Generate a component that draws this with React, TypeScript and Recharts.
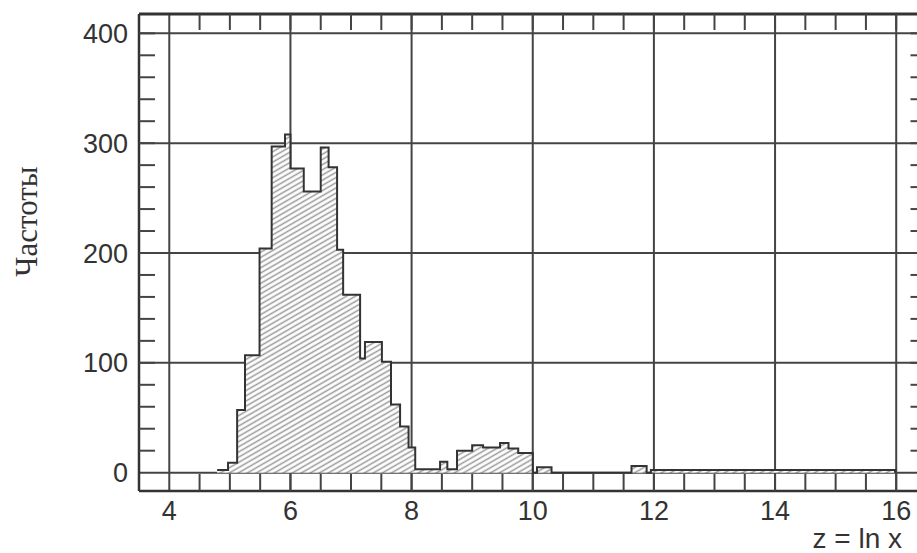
import React from 'react';
import { AreaChart, Area, XAxis, YAxis, CartesianGrid } from 'recharts';

// Histogram bin edges (z = ln x) and counts
const binEdges = [
  4.79, 4.97, 5.12, 5.25, 5.49, 5.69, 5.91, 6.0, 6.22, 6.5,
  6.63, 6.77, 6.87, 7.15, 7.23, 7.51, 7.66, 7.81, 7.95, 8.06,
  8.47, 8.59, 8.75, 9.0, 9.18, 9.46, 9.6, 9.76, 10.0, 10.07,
  10.31, 11.63, 11.88, 11.95, 15.98,
];
const binCounts = [
  2.5, 9, 57, 107, 204, 297, 308, 277, 256, 296,
  278, 203, 162, 104, 119, 101, 62, 42, 23, 3,
  10, 3, 20, 25, 23, 27, 22, 18, 0, 5,
  0, 6, 0, 2.5,
];

const xMajorTicks = [4, 6, 8, 10, 12, 14, 16];
const xMinorTicks = [
  4.5, 5, 5.5, 6, 6.5, 7, 7.5, 8, 8.5, 9, 9.5, 10, 10.5, 11, 11.5, 12,
  12.5, 13, 13.5, 14, 14.5, 15, 15.5, 16,
];
const yMajorTicks = [0, 100, 200, 300, 400];
const yMinorTicks = [
  20, 40, 60, 80, 100, 120, 140, 160, 180, 200, 220, 240, 260, 280, 300,
  320, 340, 360, 380, 400,
];
const xDomain = [3.5, 16.5];
const yDomain = [-16.7, 417.6];
const xLabel = 'z = ln x';
const yLabel = 'Частоты';

const data = binEdges.map((z, i) => ({ z, n: i < binCounts.length ? binCounts[i] : 0 }));

const sans = '"Liberation Sans", Arial, sans-serif';
const serif = '"Liberation Serif", "Times New Roman", serif';

const EmptyTick = () => <g />;

const XLabelContent = (props: any) => {
  const vb = props.viewBox || { x: 0, y: 0, width: 0, height: 0 };
  return (
    <text
      x={vb.x + vb.width - 24.5}
      y={vb.y + vb.height - 5}
      textAnchor="end"
      fontSize={28}
      fontFamily={sans}
      fill="#333"
    >
      {xLabel}
    </text>
  );
};

const YLabelContent = (props: any) => {
  const vb = props.viewBox || { x: 0, y: 0, width: 0, height: 0 };
  const x = vb.x + 37;
  const y = vb.y + vb.height * 0.435;
  return (
    <text
      x={x}
      y={y}
      transform={`rotate(-90, ${x}, ${y})`}
      textAnchor="middle"
      fontSize={31}
      fontFamily={serif}
      fill="#333"
    >
      {yLabel}
    </text>
  );
};

export default function App() {
  return (
    <div style={{ width: 917, height: 553, overflow: 'hidden', background: '#fff' }}>
      <style>{'body{margin:0;background:#fff;}'}</style>
      <AreaChart
        width={940}
        height={553}
        data={data}
        margin={{ top: 14, right: 13.5, bottom: 0, left: 0 }}
      >
        <defs>
          <pattern
            id="hatch"
            patternUnits="userSpaceOnUse"
            width="6"
            height="4.5"
            patternTransform="rotate(-30)"
          >
            <rect x="0" y="0" width="6" height="4.5" fill="#fff" />
            <line x1="0" y1="2.25" x2="6" y2="2.25" stroke="#999" strokeWidth="1.5" />
          </pattern>
        </defs>
        <CartesianGrid xAxisId="x" yAxisId="y" stroke="#444" strokeWidth={2} />
        <XAxis
          xAxisId="x"
          dataKey="z"
          type="number"
          domain={xDomain}
          allowDataOverflow
          ticks={xMajorTicks}
          interval={0}
          orientation="bottom"
          height={62}
          tickLine={false}
          tickSize={0}
          tickMargin={10}
          axisLine={{ stroke: '#333', strokeWidth: 2.5 }}
          tick={{ fontSize: 27, fill: '#333', fontFamily: sans }}
          label={{ content: XLabelContent }}
        />
        <XAxis
          xAxisId="xb"
          dataKey="z"
          type="number"
          domain={xDomain}
          allowDataOverflow
          ticks={xMinorTicks}
          interval={0}
          orientation="bottom"
          mirror
          tick={EmptyTick}
          tickSize={17}
          tickLine={{ stroke: '#444', strokeWidth: 2 }}
          axisLine={false}
        />
        <XAxis
          xAxisId="xt"
          dataKey="z"
          type="number"
          domain={xDomain}
          allowDataOverflow
          ticks={xMinorTicks}
          interval={0}
          orientation="top"
          mirror
          tick={EmptyTick}
          tickSize={16}
          tickLine={{ stroke: '#444', strokeWidth: 2 }}
          axisLine={{ stroke: '#333', strokeWidth: 3 }}
        />
        <YAxis
          yAxisId="y"
          type="number"
          domain={yDomain}
          allowDataOverflow
          ticks={yMajorTicks}
          interval={0}
          width={139}
          tickLine={false}
          tickSize={0}
          tickMargin={11}
          axisLine={{ stroke: '#333', strokeWidth: 2.5 }}
          tick={{ fontSize: 27, fill: '#333', fontFamily: sans }}
          label={{ content: YLabelContent }}
        />
        <YAxis
          yAxisId="yl"
          type="number"
          domain={yDomain}
          allowDataOverflow
          ticks={yMinorTicks}
          interval={0}
          mirror
          tick={EmptyTick}
          tickSize={16}
          tickLine={{ stroke: '#444', strokeWidth: 2 }}
          axisLine={false}
        />
        <YAxis
          yAxisId="yr"
          type="number"
          domain={yDomain}
          allowDataOverflow
          ticks={yMinorTicks}
          interval={0}
          orientation="right"
          mirror
          tick={EmptyTick}
          tickSize={16}
          tickLine={{ stroke: '#444', strokeWidth: 2 }}
          axisLine={{ stroke: '#333', strokeWidth: 2.5 }}
        />
        <Area
          xAxisId="x"
          yAxisId="y"
          dataKey="n"
          type="stepAfter"
          fill="url(#hatch)"
          fillOpacity={1}
          stroke="#333"
          strokeWidth={2}
          dot={false}
          activeDot={false}
          isAnimationActive={false}
        />
      </AreaChart>
    </div>
  );
}
